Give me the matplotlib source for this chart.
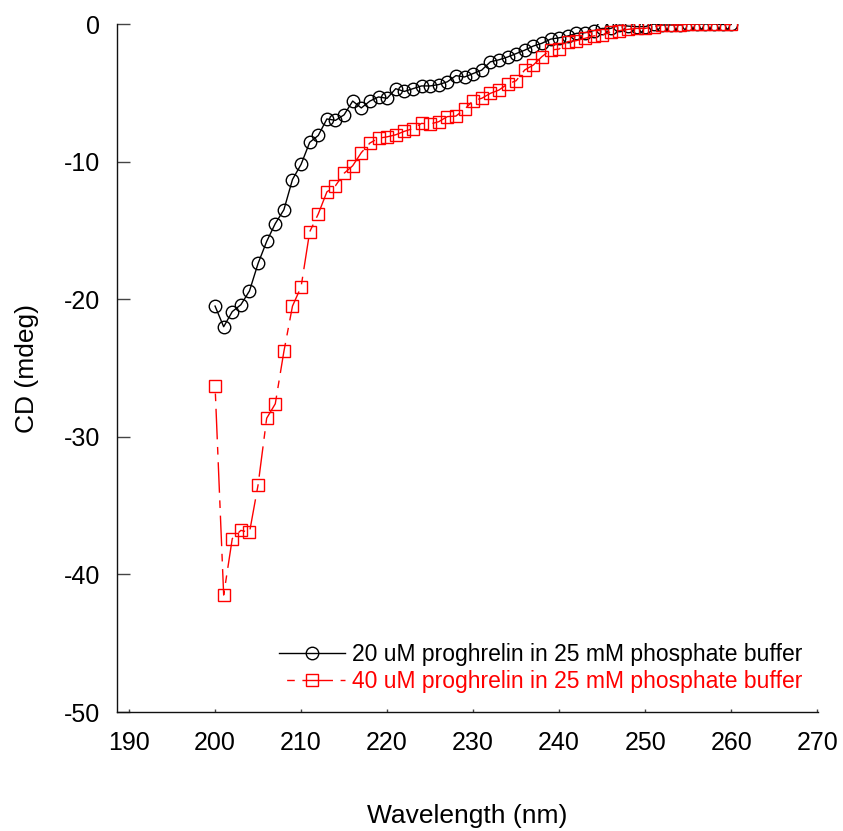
import matplotlib
matplotlib.use('Agg')
import matplotlib.pyplot as plt

plt.rcParams['font.family'] = ['Liberation Sans', 'DejaVu Sans']
plt.rcParams['axes.unicode_minus'] = False

# CD spectra, 200-260 nm in 1 nm steps
wavelength = list(range(200, 261))

cd_20um = [
    -20.5, -22.0, -20.9, -20.4, -19.4, -17.4, -15.8, -14.5, -13.5, -11.3,
    -10.2, -8.6, -8.1, -6.9, -7.0, -6.6, -5.6, -6.1, -5.6, -5.3,
    -5.4, -4.7, -4.9, -4.7, -4.5, -4.5, -4.4, -4.2, -3.75, -3.85,
    -3.6, -3.35, -2.75, -2.6, -2.4, -2.15, -1.9, -1.6, -1.4, -1.1,
    -1.0, -0.87, -0.68, -0.63, -0.48, -0.32, -0.32, -0.07, -0.15, -0.19,
    -0.19, 0.0, -0.07, -0.07, -0.07, 0.0, 0.0, 0.0, 0.0, -0.03,
    -0.03,
]

cd_40um = [
    -26.3, -41.5, -37.4, -36.8, -36.95, -33.5, -28.65, -27.6, -23.8, -20.5,
    -19.1, -15.1, -13.8, -12.2, -11.75, -10.85, -10.3, -9.35, -8.65, -8.3,
    -8.2, -8.05, -7.8, -7.6, -7.22, -7.27, -7.1, -6.73, -6.69, -6.2,
    -5.57, -5.4, -5.04, -4.8, -4.36, -4.12, -3.34, -2.98, -2.37, -1.89,
    -1.82, -1.28, -1.21, -1.04, -0.87, -0.8, -0.56, -0.48, -0.39, -0.32,
    -0.32, -0.19, -0.07, -0.07, -0.07, 0.0, 0.0, 0.0, 0.0, -0.03,
    -0.03,
]

labels = [
    '20 uM proghrelin in 25 mM phosphate buffer',
    '40 uM proghrelin in 25 mM phosphate buffer',
]

fig = plt.figure(figsize=(8.43, 8.31), dpi=100)
ax = fig.add_axes([0.1388, 0.1432, 0.8316, 0.8279])

ax.plot(wavelength, cd_20um, color='black', lw=1.0, marker='o', ms=9,
        mfc='none', mec='black', mew=1.0, label=labels[0])
# dash-dot line, offset so the pattern opens with the short dash
ax.plot(wavelength, cd_40um, color='red', lw=1.0, marker='s', ms=9,
        mfc='none', mec='red', mew=1.0,
        linestyle=(22, (22, 5.5, 5.5, 5.5)), label=labels[1])

ax.set_xlim(188.6, 270.1)
ax.set_ylim(-50, 0)
ax.set_xticks(range(190, 271, 10))
ax.set_yticks(range(-50, 1, 10))

for side in ('top', 'right'):
    ax.spines[side].set_visible(False)
for side in ('left', 'bottom'):
    ax.spines[side].set_linewidth(1.0)
    ax.spines[side].set_color('#111111')

ax.tick_params(axis='y', direction='in', length=9.5, width=1.0,
               color='#444444', labelsize=18, pad=12)
ax.tick_params(axis='x', direction='in', length=2, width=1.0,
               color='#444444', labelsize=18, pad=14)

ax.set_xlabel('Wavelength (nm)', fontsize=19, labelpad=35)
ax.set_ylabel('CD (mdeg)', fontsize=19, labelpad=18)

leg = ax.legend(loc='upper left', bbox_to_anchor=(279 / 843, 1 - 643 / 831),
                bbox_transform=fig.transFigure, frameon=False, fontsize=16.5,
                handlelength=2.9, handletextpad=0.3, labelspacing=0.18,
                borderpad=0, borderaxespad=0)
for txt, c in zip(leg.get_texts(), ('black', 'red')):
    txt.set_color(c)

fig.savefig('out.png', dpi=100)
